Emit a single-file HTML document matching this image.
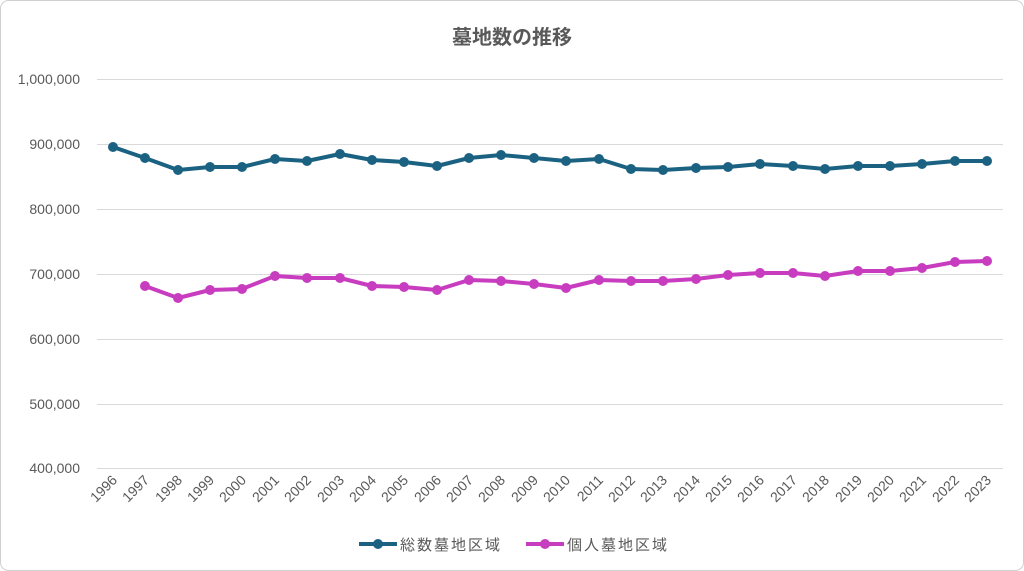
<!DOCTYPE html>
<html><head><meta charset="utf-8"><style>
html,body{margin:0;padding:0;background:#fff;}
svg{display:block;font-family:"Liberation Sans","Noto Sans CJK JP",sans-serif;}
</style></head><body>
<svg width="1024" height="571" viewBox="0 0 1024 571">
<rect x="0.5" y="0.5" width="1023" height="570" rx="8" fill="#fff" stroke="#d0d0d0"/>
<text x="512" y="44" text-anchor="middle" font-size="20" font-weight="bold" fill="#595959">墓地数の推移</text>
<g stroke="#d9d9d9" stroke-width="1">
<line x1="97" x2="1003" y1="79.5" y2="79.5"/><line x1="97" x2="1003" y1="144.5" y2="144.5"/>
<line x1="97" x2="1003" y1="209.5" y2="209.5"/><line x1="97" x2="1003" y1="274.5" y2="274.5"/>
<line x1="97" x2="1003" y1="339.5" y2="339.5"/><line x1="97" x2="1003" y1="404.5" y2="404.5"/>
<line x1="97" x2="1003" y1="468.5" y2="468.5"/>
</g>
<g font-size="14" fill="#595959" text-anchor="end">
<text x="80" y="84">1,000,000</text><text x="80" y="149">900,000</text><text x="80" y="214">800,000</text>
<text x="80" y="279">700,000</text><text x="80" y="344">600,000</text><text x="80" y="409">500,000</text><text x="80" y="473">400,000</text>
</g>
<g font-size="14" fill="#595959" text-anchor="end">
<text transform="translate(118,481) rotate(-45)">1996</text><text transform="translate(150,481) rotate(-45)">1997</text>
<text transform="translate(183,481) rotate(-45)">1998</text><text transform="translate(215,481) rotate(-45)">1999</text>
<text transform="translate(247,481) rotate(-45)">2000</text><text transform="translate(280,481) rotate(-45)">2001</text>
<text transform="translate(312,481) rotate(-45)">2002</text><text transform="translate(345,481) rotate(-45)">2003</text>
<text transform="translate(377,481) rotate(-45)">2004</text><text transform="translate(409,481) rotate(-45)">2005</text>
<text transform="translate(442,481) rotate(-45)">2006</text><text transform="translate(474,481) rotate(-45)">2007</text>
<text transform="translate(506,481) rotate(-45)">2008</text><text transform="translate(539,481) rotate(-45)">2009</text>
<text transform="translate(571,481) rotate(-45)">2010</text><text transform="translate(604,481) rotate(-45)">2011</text>
<text transform="translate(636,481) rotate(-45)">2012</text><text transform="translate(668,481) rotate(-45)">2013</text>
<text transform="translate(701,481) rotate(-45)">2014</text><text transform="translate(733,481) rotate(-45)">2015</text>
<text transform="translate(765,481) rotate(-45)">2016</text><text transform="translate(798,481) rotate(-45)">2017</text>
<text transform="translate(830,481) rotate(-45)">2018</text><text transform="translate(863,481) rotate(-45)">2019</text>
<text transform="translate(895,481) rotate(-45)">2020</text><text transform="translate(927,481) rotate(-45)">2021</text>
<text transform="translate(960,481) rotate(-45)">2022</text><text transform="translate(992,481) rotate(-45)">2023</text>
</g>
<polyline fill="none" stroke="#1b6282" stroke-width="4" stroke-linejoin="round" points="113,147 145,158 178,170 210,167 242,167 275,159 307,161 340,154 372,160 404,162 437,166 469,158 501,155 534,158 566,161 599,159 631,169 663,170 696,168 728,167 760,164 793,166 825,169 858,166 890,166 922,164 955,161 987,161"/>
<g fill="#1b6282">
<circle cx="113" cy="147" r="5"/><circle cx="145" cy="158" r="5"/><circle cx="178" cy="170" r="5"/><circle cx="210" cy="167" r="5"/><circle cx="242" cy="167" r="5"/><circle cx="275" cy="159" r="5"/><circle cx="307" cy="161" r="5"/><circle cx="340" cy="154" r="5"/><circle cx="372" cy="160" r="5"/><circle cx="404" cy="162" r="5"/><circle cx="437" cy="166" r="5"/><circle cx="469" cy="158" r="5"/><circle cx="501" cy="155" r="5"/><circle cx="534" cy="158" r="5"/><circle cx="566" cy="161" r="5"/><circle cx="599" cy="159" r="5"/><circle cx="631" cy="169" r="5"/><circle cx="663" cy="170" r="5"/><circle cx="696" cy="168" r="5"/><circle cx="728" cy="167" r="5"/><circle cx="760" cy="164" r="5"/><circle cx="793" cy="166" r="5"/><circle cx="825" cy="169" r="5"/><circle cx="858" cy="166" r="5"/><circle cx="890" cy="166" r="5"/><circle cx="922" cy="164" r="5"/><circle cx="955" cy="161" r="5"/><circle cx="987" cy="161" r="5"/>
</g>
<polyline fill="none" stroke="#c83cbf" stroke-width="4" stroke-linejoin="round" points="145,286 178,298 210,290 242,289 275,276 307,278 340,278 372,286 404,287 437,290 469,280 501,281 534,284 566,288 599,280 631,281 663,281 696,279 728,275 760,273 793,273 825,276 858,271 890,271 922,268 955,262 987,261"/>
<g fill="#c83cbf">
<circle cx="145" cy="286" r="5"/><circle cx="178" cy="298" r="5"/><circle cx="210" cy="290" r="5"/><circle cx="242" cy="289" r="5"/><circle cx="275" cy="276" r="5"/><circle cx="307" cy="278" r="5"/><circle cx="340" cy="278" r="5"/><circle cx="372" cy="286" r="5"/><circle cx="404" cy="287" r="5"/><circle cx="437" cy="290" r="5"/><circle cx="469" cy="280" r="5"/><circle cx="501" cy="281" r="5"/><circle cx="534" cy="284" r="5"/><circle cx="566" cy="288" r="5"/><circle cx="599" cy="280" r="5"/><circle cx="631" cy="281" r="5"/><circle cx="663" cy="281" r="5"/><circle cx="696" cy="279" r="5"/><circle cx="728" cy="275" r="5"/><circle cx="760" cy="273" r="5"/><circle cx="793" cy="273" r="5"/><circle cx="825" cy="276" r="5"/><circle cx="858" cy="271" r="5"/><circle cx="890" cy="271" r="5"/><circle cx="922" cy="268" r="5"/><circle cx="955" cy="262" r="5"/><circle cx="987" cy="261" r="5"/>
</g>
<line x1="359" x2="397" y1="544" y2="544" stroke="#1b6282" stroke-width="4"/><circle cx="378" cy="544" r="5" fill="#1b6282"/>
<text x="400" y="550" font-size="15" fill="#595959" letter-spacing="2">総数墓地区域</text>
<line x1="526" x2="564" y1="544" y2="544" stroke="#c83cbf" stroke-width="4"/><circle cx="545" cy="544" r="5" fill="#c83cbf"/>
<text x="567" y="550" font-size="15" fill="#595959" letter-spacing="2">個人墓地区域</text>
</svg>
</body></html>
